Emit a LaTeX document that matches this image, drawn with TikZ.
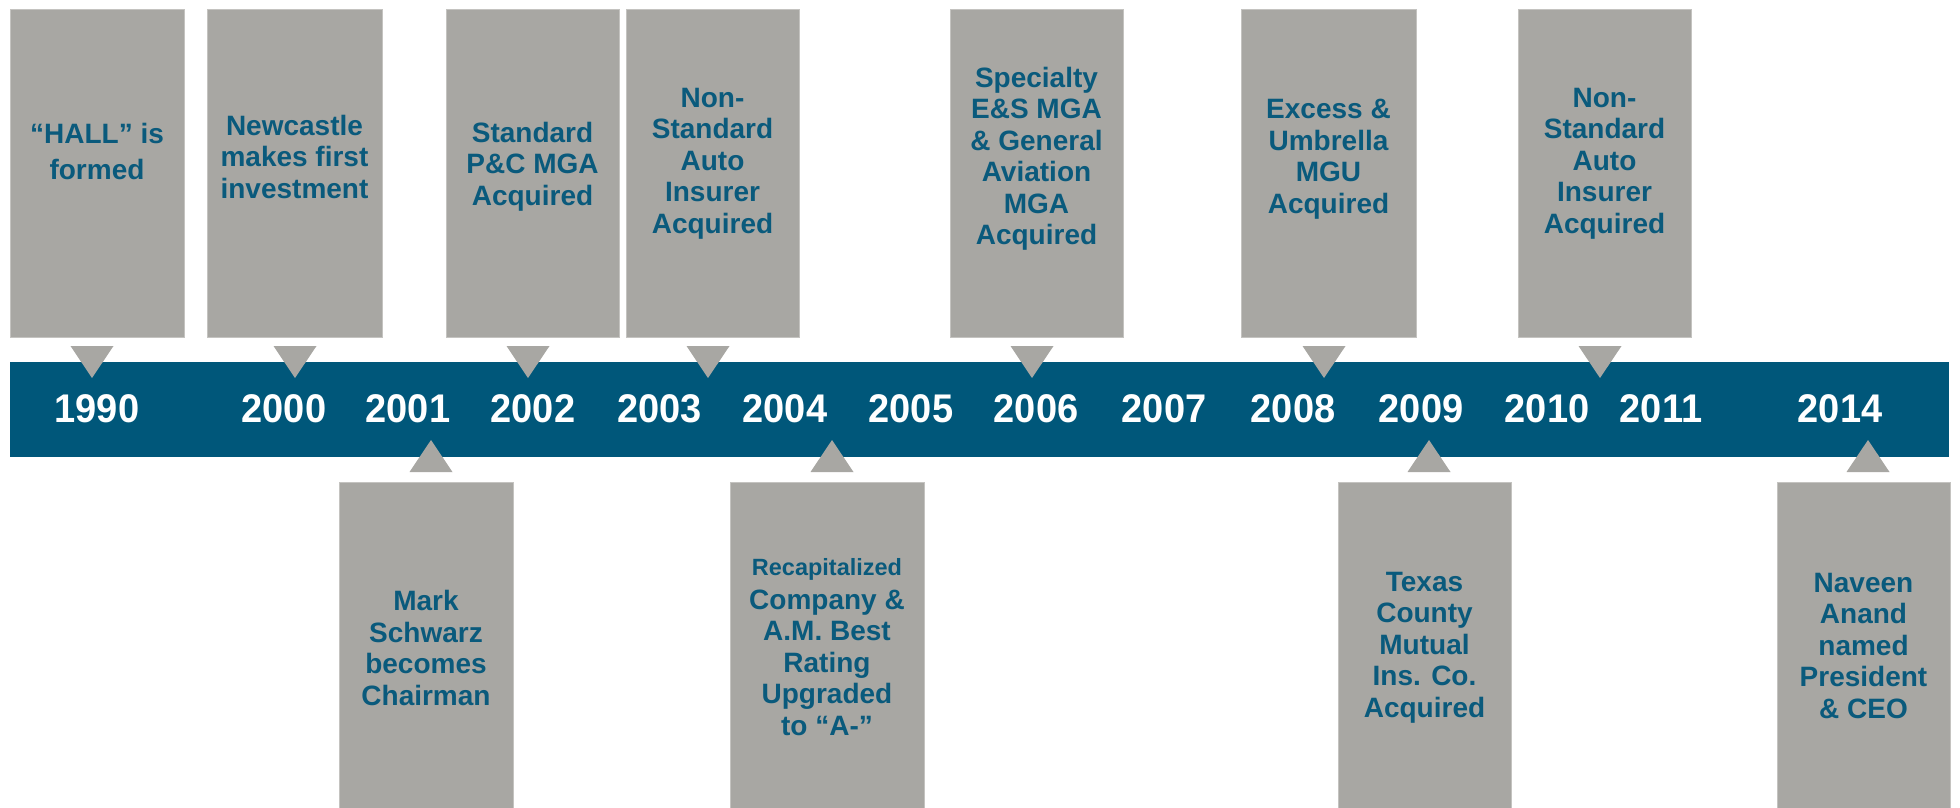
\documentclass[tikz,border=0pt]{standalone}
\usepackage{fontspec}
\setmainfont{Liberation Sans}
\newfontfamily\yearfont{Liberation Sans}[FakeStretch=0.95]
\definecolor{barblue}{HTML}{00577A}
\definecolor{txtblue}{HTML}{0A5A7C}
\definecolor{boxgray}{HTML}{A8A7A3}
\definecolor{edgegray}{HTML}{C4C3C0}
\begin{document}
\begin{tikzpicture}[x=1pt,y=-1pt,
  evbox/.style={fill=boxgray,draw=edgegray,line width=1pt},
  evtxt/.style={anchor=north,inner sep=0pt,align=center,text=txtblue,
    font=\bfseries\fontsize{28}{31.5}\selectfont},
  yr/.style={anchor=base,inner sep=0pt,text=white,
    font=\yearfont\bfseries\fontsize{40}{40}\selectfont},
  tridown/.style={fill=boxgray},
]
\useasboundingbox (0,0) rectangle (1960,807);
\fill[white] (0,0) rectangle (1960,807);

% timeline bar
\fill[barblue] (10,362) rectangle (1949,457);
\coordinate (bar) at (979.5,409.5);

% top boxes
\filldraw[evbox] (10,9) rectangle (184,337);
\filldraw[evbox] (207,9) rectangle (382,337);
\filldraw[evbox] (446,9) rectangle (619,337);
\filldraw[evbox] (626,9) rectangle (799,337);
\filldraw[evbox] (950,9) rectangle (1123,337);
\filldraw[evbox] (1241,9) rectangle (1416,337);
\filldraw[evbox] (1518,9) rectangle (1691,337);

% bottom boxes
\filldraw[evbox] (339,482) rectangle (513,812);
\filldraw[evbox] (730,482) rectangle (924,812);
\filldraw[evbox] (1338,482) rectangle (1511,812);
\filldraw[evbox] (1777,482) rectangle (1950,812);

% top triangles (pointing down)
\foreach \cx in {92,295,528,708,1032,1324,1600}
  \fill[tridown] (\cx-21.5,346) -- (\cx+21.5,346) -- (\cx,378) -- cycle;
% bottom triangles (pointing up)
\foreach \cx in {431,832,1429,1868}
  \fill[tridown] (\cx-21.5,472) -- (\cx+21.5,472) -- (\cx,440) -- cycle;

% years
\node[yr] (y1990) at (97,422) {1990};
\node[yr] (y2000) at (284,422) {2000};
\node[yr] (y2001) at (408,422) {2001};
\node[yr] (y2002) at (533,422) {2002};
\node[yr] (y2003) at (659.5,422) {2003};
\node[yr] (y2004) at (785,422) {2004};
\node[yr] (y2005) at (911,422) {2005};
\node[yr] (y2006) at (1036,422) {2006};
\node[yr] (y2007) at (1164,422) {2007};
\node[yr] (y2008) at (1293,422) {2008};
\node[yr] (y2009) at (1421,422) {2009};
\node[yr] (y2010) at (1547,422) {2010};
\node[yr] (y2011) at (1661,422) {2011};
\node[yr] (y2014) at (1840,422) {2014};

% top texts
\node[evtxt] (t1) at (97,123) {“HALL” is\\[4.5pt]formed};
\node[evtxt] (t2) at (294.5,115) {Newcastle\\makes first\\investment};
\node[evtxt] (t3) at (532.5,122) {Standard\\P\&C MGA\\Acquired};
\node[evtxt] (t4) at (712.5,88) {Non-\\Standard\\Auto\\Insurer\\Acquired};
\node[evtxt] (t5) at (1036.5,67) {Specialty\\E\&S MGA\\\& General\\Aviation\\MGA\\Acquired};
\node[evtxt] (t6) at (1328.5,99) {Excess \&\\Umbrella\\MGU\\Acquired};
\node[evtxt] (t7) at (1604.5,88) {Non-\\Standard\\Auto\\Insurer\\Acquired};

% bottom texts
\node[evtxt] (u1) at (426,590) {Mark\\Schwarz\\becomes\\Chairman};
\node[evtxt] (u2) at (827,558) {{\fontsize{23.5}{28}\selectfont Recapitalized}\\[2.5pt]Company \&\\A.M. Best\\Rating\\Upgraded\\to “A-”};
\node[evtxt] (u3) at (1424.5,572) {Texas\\County\\Mutual\\Ins. Co.\\Acquired};
\node[evtxt] (u4) at (1863.5,573) {Naveen\\Anand\\named\\President\\\& CEO};
\end{tikzpicture}
\end{document}
